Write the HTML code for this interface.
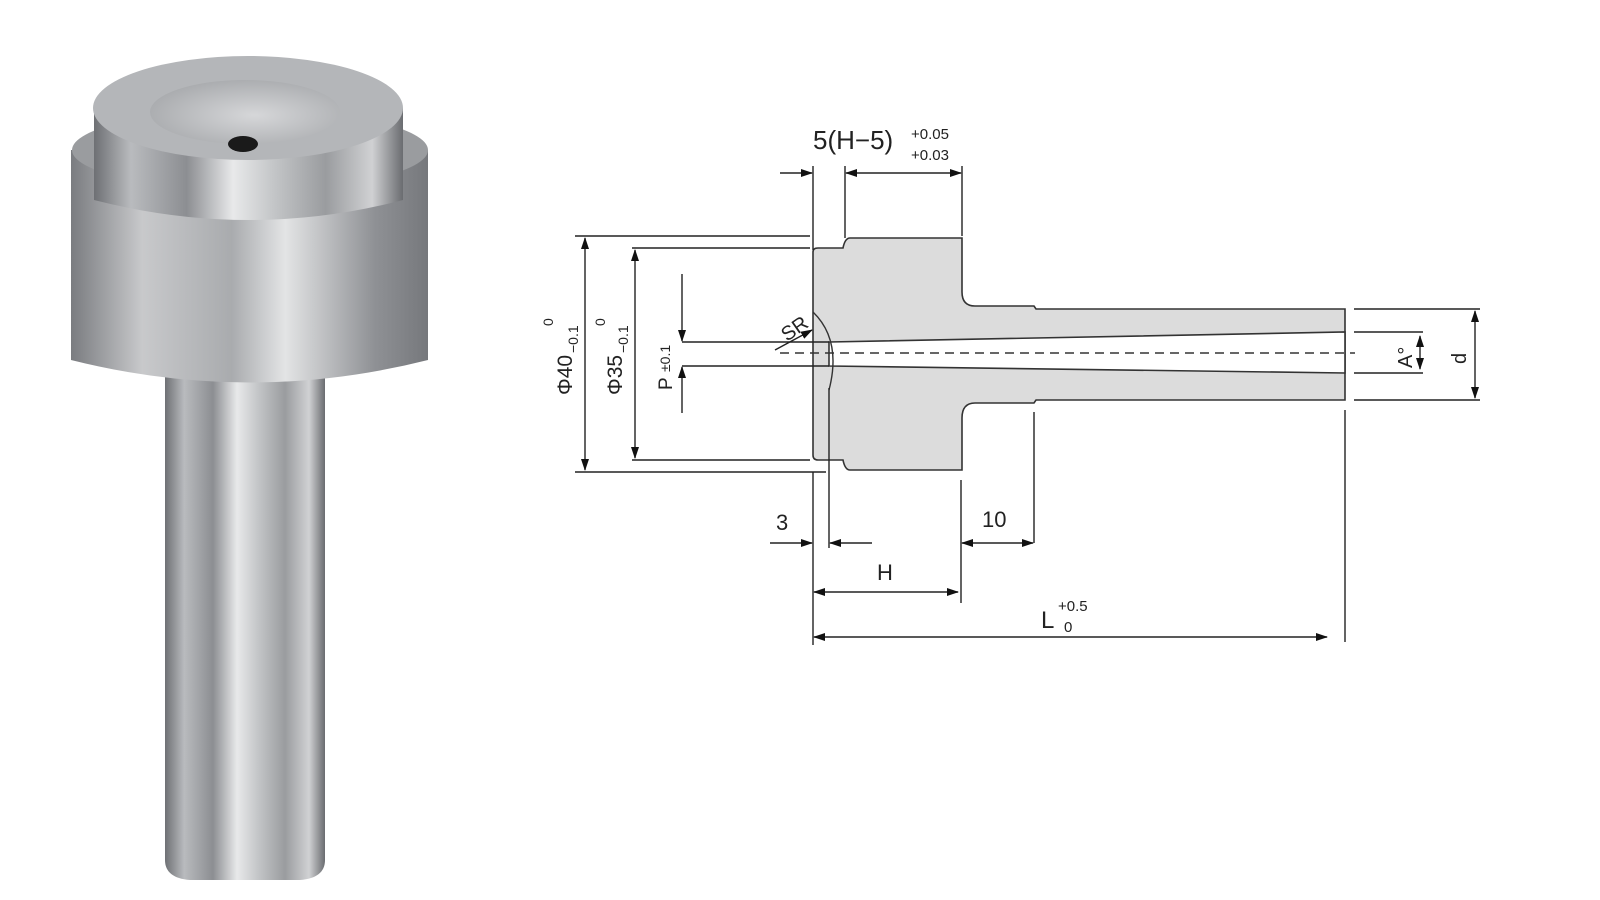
<!DOCTYPE html>
<html><head><meta charset="utf-8"><style>
html,body{margin:0;padding:0;background:#fff;width:1600px;height:900px;overflow:hidden}
svg{display:block}
text{font-family:"Liberation Sans",sans-serif;fill:#222}
</style></head><body>
<svg width="1600" height="900" viewBox="0 0 1600 900" xmlns="http://www.w3.org/2000/svg">
<defs>
<linearGradient id="m1" x1="0" x2="1" y1="0" y2="0">
<stop offset="0" stop-color="#6e7074"/><stop offset="0.12" stop-color="#b9bbbe"/><stop offset="0.3" stop-color="#8c8e92"/>
<stop offset="0.45" stop-color="#e8e9ea"/><stop offset="0.58" stop-color="#c4c6c8"/><stop offset="0.75" stop-color="#9a9c9f"/>
<stop offset="0.9" stop-color="#d0d1d3"/><stop offset="1" stop-color="#6a6c70"/></linearGradient>
<linearGradient id="m2" x1="0" x2="1" y1="0" y2="0">
<stop offset="0" stop-color="#7a7c80"/><stop offset="0.2" stop-color="#c8c9cb"/><stop offset="0.45" stop-color="#a9abae"/>
<stop offset="0.6" stop-color="#e3e4e5"/><stop offset="0.85" stop-color="#8f9195"/><stop offset="1" stop-color="#76787c"/></linearGradient>
<radialGradient id="top" cx="0.55" cy="0.55" r="0.6"><stop offset="0" stop-color="#d6d7d9"/><stop offset="1" stop-color="#a8aaad"/></radialGradient>
<marker id="ar" markerWidth="12" markerHeight="8" refX="11" refY="4" orient="auto" markerUnits="userSpaceOnUse"><path d="M0,0 L12,4 L0,8 z" fill="#111"/></marker>
<marker id="al" markerWidth="12" markerHeight="8" refX="1" refY="4" orient="auto" markerUnits="userSpaceOnUse"><path d="M12,0 L0,4 L12,8 z" fill="#111"/></marker>
</defs>

<!-- photo -->
<path d="M165,370 L325,370 L325,860 Q325,878 300,880 L190,880 Q165,878 165,860 Z" fill="url(#m1)"/>
<path d="M71,150 L428,150 L428,360 Q250,405 71,360 Z" fill="url(#m2)"/>
<ellipse cx="250" cy="150" rx="178" ry="40" fill="#9a9c9f"/>
<path d="M94,108 L403,108 L403,200 Q250,240 94,200 Z" fill="url(#m1)"/>
<ellipse cx="248" cy="108" rx="155" ry="52" fill="#b4b6b9"/>
<ellipse cx="245" cy="112" rx="95" ry="32" fill="url(#top)"/>
<ellipse cx="243" cy="144" rx="15" ry="8" fill="#1a1a1a"/>

<!-- drawing body -->
<path d="M813,252 Q813,248 818,248 L843,248 Q845,238 850,238 L962,238 L962,292 Q962,306 975,306 L1034,306 L1036,309 L1345,309 L1345,400 L1036,400 L1034,403 L975,403 Q962,403 962,418 L962,470 L850,470 Q845,470 843,460 L818,460 Q813,460 813,455 Z" fill="#dcdcdc" stroke="#333" stroke-width="1.6"/>
<path d="M829,342 L1345,332 L1345,373 L829,366 Z" fill="#fff" stroke="#333" stroke-width="1.6"/>
<path d="M813,312 Q842,340 829,390" fill="none" stroke="#333" stroke-width="1.4"/>
<line x1="780" y1="353" x2="1355" y2="353" stroke="#333" stroke-width="1.6" stroke-dasharray="9,6"/>

<g stroke="#222" stroke-width="1.4" fill="none">
<line x1="813" y1="166" x2="813" y2="250"/><line x1="845" y1="166" x2="845" y2="238"/><line x1="962" y1="166" x2="962" y2="236"/>
<line x1="780" y1="173" x2="812" y2="173" marker-end="url(#ar)"/>
<line x1="846" y1="173" x2="961" y2="173" marker-start="url(#al)" marker-end="url(#ar)"/>
<line x1="575" y1="236" x2="810" y2="236"/><line x1="575" y1="472" x2="826" y2="472"/>
<line x1="632" y1="248" x2="810" y2="248"/><line x1="632" y1="460" x2="810" y2="460"/>
<line x1="585" y1="238" x2="585" y2="470" marker-start="url(#al)" marker-end="url(#ar)"/>
<line x1="635" y1="250" x2="635" y2="458" marker-start="url(#al)" marker-end="url(#ar)"/>
<line x1="682" y1="342" x2="829" y2="342"/><line x1="682" y1="366" x2="829" y2="366"/>
<line x1="682" y1="274" x2="682" y2="341" marker-end="url(#ar)"/>
<line x1="682" y1="413" x2="682" y2="367" marker-end="url(#ar)"/>
<line x1="775" y1="350" x2="812" y2="330" marker-end="url(#ar)"/>
<line x1="813" y1="472" x2="813" y2="645"/><line x1="829" y1="388" x2="829" y2="548"/>
<line x1="961" y1="480" x2="961" y2="603"/><line x1="1034" y1="412" x2="1034" y2="543"/>
<line x1="1345" y1="410" x2="1345" y2="642"/>
<line x1="770" y1="543" x2="812" y2="543" marker-end="url(#ar)"/>
<line x1="872" y1="543" x2="830" y2="543" marker-end="url(#ar)"/>
<line x1="962" y1="543" x2="1033" y2="543" marker-start="url(#al)" marker-end="url(#ar)"/>
<line x1="814" y1="592" x2="958" y2="592" marker-start="url(#al)" marker-end="url(#ar)"/>
<line x1="814" y1="637" x2="1327" y2="637" marker-start="url(#al)" marker-end="url(#ar)"/>
<line x1="1354" y1="309" x2="1480" y2="309"/><line x1="1354" y1="400" x2="1480" y2="400"/>
<line x1="1354" y1="332" x2="1423" y2="332"/><line x1="1354" y1="373" x2="1423" y2="373"/>
<line x1="1420" y1="336" x2="1420" y2="369" marker-start="url(#al)" marker-end="url(#ar)"/>
<line x1="1475" y1="311" x2="1475" y2="398" marker-start="url(#al)" marker-end="url(#ar)"/>
</g>

<text x="813" y="149" font-size="26">5(H−5)</text>
<text x="911" y="139" font-size="15">+0.05</text>
<text x="911" y="160" font-size="15">+0.03</text>
<text x="0" y="0" font-size="21" transform="translate(572,395) rotate(-90)">Φ40</text>
<text x="0" y="0" font-size="14" transform="translate(578,353) rotate(-90)">−0.1</text>
<text x="0" y="0" font-size="14" transform="translate(553,326) rotate(-90)">0</text>
<text x="0" y="0" font-size="21" transform="translate(622,395) rotate(-90)">Φ35</text>
<text x="0" y="0" font-size="14" transform="translate(628,353) rotate(-90)">−0.1</text>
<text x="0" y="0" font-size="14" transform="translate(605,326) rotate(-90)">0</text>
<text x="0" y="0" font-size="19" transform="translate(672,390) rotate(-90)">P</text>
<text x="0" y="0" font-size="14" transform="translate(670,372) rotate(-90)">±0.1</text>
<text x="0" y="0" font-size="20" transform="translate(787,342) rotate(-35)">SR</text>
<text x="776" y="530" font-size="22">3</text>
<text x="982" y="527" font-size="22">10</text>
<text x="877" y="580" font-size="22">H</text>
<text x="1041" y="628" font-size="24">L</text>
<text x="1058" y="611" font-size="15">+0.5</text>
<text x="1064" y="632" font-size="15">0</text>
<text x="0" y="0" font-size="20" transform="translate(1412,368) rotate(-90)">A°</text>
<text x="0" y="0" font-size="20" transform="translate(1466,364) rotate(-90)">d</text>
</svg>
</body></html>
